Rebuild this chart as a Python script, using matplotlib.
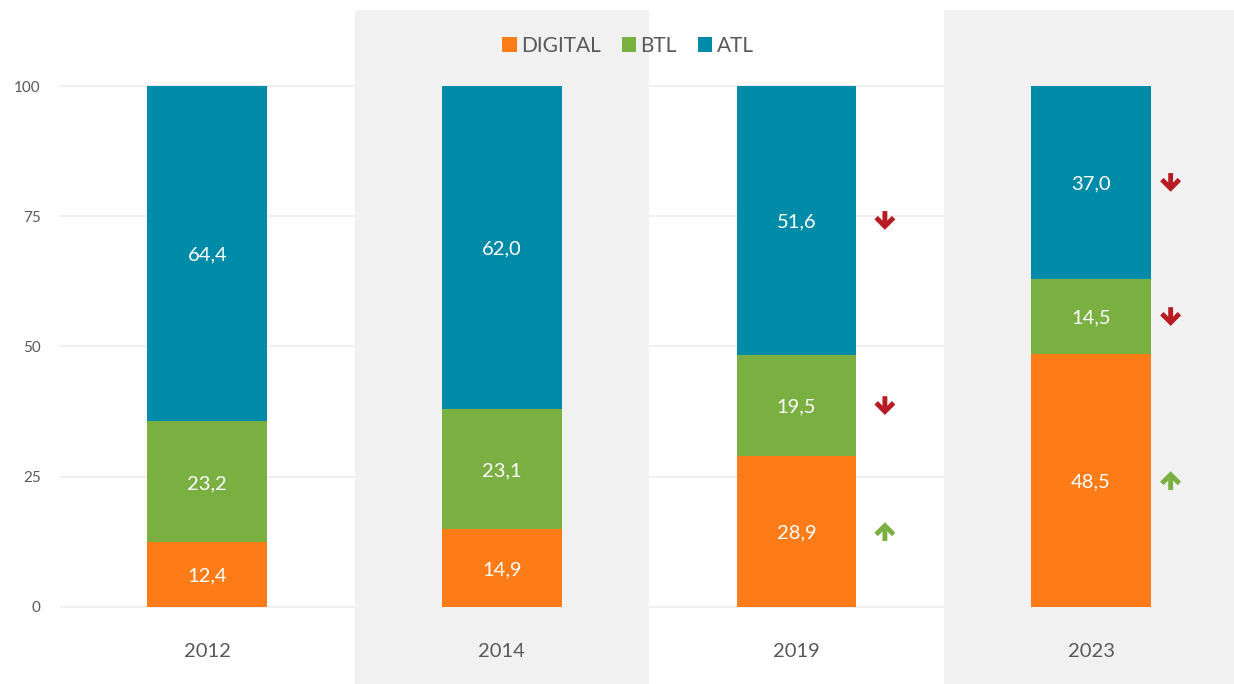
import matplotlib.pyplot as plt

years = ['2012', '2014', '2019', '2023']
digital = [12.4, 14.9, 28.9, 48.5]
btl = [23.2, 23.1, 19.5, 14.5]
atl = [64.4, 62.0, 51.6, 37.0]
# change markers (year index, segment, direction)
changes = [(2, 'ATL', 'down'), (2, 'BTL', 'down'), (2, 'DIGITAL', 'up'),
           (3, 'ATL', 'down'), (3, 'BTL', 'down'), (3, 'DIGITAL', 'up')]

c_dig, c_btl, c_atl = '#fe7c18', '#7aaf42', '#008ca8'
c_red, c_green = '#b71c24', '#7aaf42'
gray_txt = '#595959'

plt.rcParams['font.family'] = ['Lato', 'DejaVu Sans']

fig = plt.figure(figsize=(12.34, 6.84), dpi=100)
ax = fig.add_axes([60 / 1234, 0, 1 - 60 / 1234, 674 / 684])

x = list(range(len(years)))
ax.set_xlim(-0.5, 3.485)
ax.set_ylim(-14.8, 114.6)

# grid lines and shaded bands
ax.hlines([0, 25, 50, 75, 100], -0.5, 3.5, color='#efefef', lw=1.5, zorder=0)
for i in (1, 3):
    ax.axvspan(i - 0.5, i + 0.5, color='#f1f1f1', zorder=1, lw=0)

w = 0.407
ax.bar(x, digital, w, color=c_dig, label='DIGITAL', zorder=2)
ax.bar(x, btl, w, bottom=digital, color=c_btl, label='BTL', zorder=2)
b3 = [d + b for d, b in zip(digital, btl)]
ax.bar(x, atl, w, bottom=b3, color=c_atl, label='ATL', zorder=2)

centers = {}
for i in x:
    centers[(i, 'DIGITAL')] = digital[i] / 2
    centers[(i, 'BTL')] = digital[i] + btl[i] / 2
    centers[(i, 'ATL')] = b3[i] + atl[i] / 2
    for seg, val in (('DIGITAL', digital[i]), ('BTL', btl[i]), ('ATL', atl[i])):
        ax.text(i, centers[(i, seg)] - 0.3, f'{val:.1f}'.replace('.', ','), ha='center',
                va='center', color='white', fontsize=14.5, zorder=3)
    ax.text(i, -8.6, years[i], ha='center', va='center', color=gray_txt, fontsize=14.5)

arrow_dx = {2: 0.30, 3: 0.27}
for i, seg, d in changes:
    yc = centers[(i, seg)]
    col = c_red if d == 'down' else c_green
    sgn = -1 if d == 'down' else 1
    xa = i + arrow_dx[i]
    ax.annotate('', xy=(xa, yc + sgn * 1.8), xytext=(xa, yc - sgn * 1.8),
                zorder=4,
                arrowprops=dict(arrowstyle='->,head_length=0.45,head_width=0.45',
                                color=col, lw=3.5, mutation_scale=14,
                                shrinkA=0, shrinkB=0, capstyle='butt',
                                joinstyle='miter'))

ax.set_yticks([0, 25, 50, 75, 100])
ax.tick_params(axis='y', length=0, labelsize=11, labelcolor=gray_txt, pad=14)
ax.set_xticks([])
for s in ax.spines.values():
    s.set_visible(False)

fig.legend(loc='center', bbox_to_anchor=(628 / 1234, 1 - 46 / 684), ncol=3,
           frameon=False, fontsize=15, handlelength=0.7, handleheight=0.7,
           handletextpad=0.2, columnspacing=1.0, labelcolor=gray_txt)

fig.savefig('out.png', dpi=100)
